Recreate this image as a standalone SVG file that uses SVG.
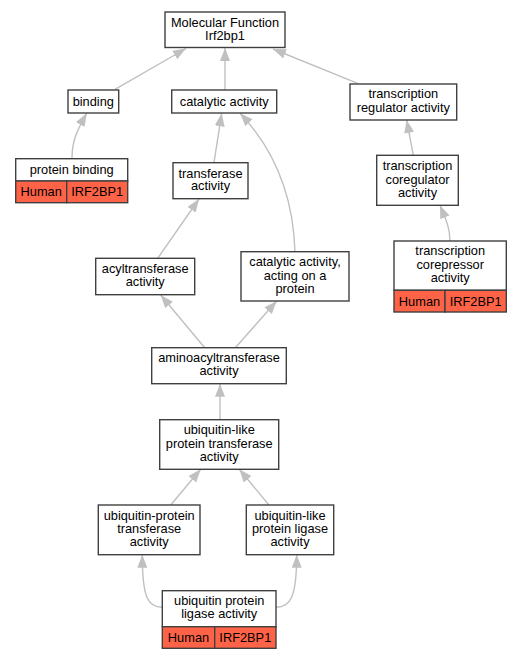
<svg xmlns="http://www.w3.org/2000/svg" width="523" height="659" viewBox="0 0 523 659">
<style>
.n{fill:#fff;stroke:#404040;stroke-width:1.4}
.h{fill:#ff6347;stroke:#404040;stroke-width:1.4}
.d{stroke:#000;stroke-width:1}
text{font-family:"Liberation Sans",Arial,sans-serif;font-size:12.8px;fill:#000;text-anchor:middle}
.e{fill:none;stroke:#c0c0c0;stroke-width:1.4}
</style>
<defs>
<marker id="a" markerUnits="userSpaceOnUse" markerWidth="14" markerHeight="11" refX="13" refY="5" orient="auto" viewBox="0 0 14 11">
<path d="M0,0 L13,5 L0,10 z" fill="#c0c0c0"/>
</marker>
</defs>
<rect width="523" height="659" fill="#fff"/>
<g id="edges">
<path class="e" marker-end="url(#a)" d="M115,89.3 L186,48.5"/>
<path class="e" marker-end="url(#a)" d="M225,90 L225,48"/>
<path class="e" marker-end="url(#a)" d="M357.7,83.3 L273,49"/>
<path class="e" marker-end="url(#a)" d="M72,158 C72,142 76,132 86.7,113.3"/>
<path class="e" marker-end="url(#a)" d="M214,162.3 L221.7,113.3"/>
<path class="e" marker-end="url(#a)" d="M295,251.7 C293,190 272,147 240,113.3"/>
<path class="e" marker-end="url(#a)" d="M413.3,155.3 L406.7,120"/>
<path class="e" marker-end="url(#a)" d="M450,241 C450,228 446,220 440,205.3"/>
<path class="e" marker-end="url(#a)" d="M157.7,258.3 L199,199"/>
<path class="e" marker-end="url(#a)" d="M204.7,347.7 L160.7,295"/>
<path class="e" marker-end="url(#a)" d="M235.3,347.7 L276.7,301"/>
<path class="e" marker-end="url(#a)" d="M220,419.7 L220,383.7"/>
<path class="e" marker-end="url(#a)" d="M170.7,505 L200.7,469.3"/>
<path class="e" marker-end="url(#a)" d="M269,505 L239.3,469.3"/>
<path class="e" marker-end="url(#a)" d="M162.3,607.3 C148,607.3 142.3,598 142.3,554.7"/>
<path class="e" marker-end="url(#a)" d="M276,607.3 C290,607.3 296.7,598 296.7,554.7"/>
</g>
<g id="mf">
<rect class="n" x="165" y="12" width="120" height="35.5"/>
<text x="225" y="26.5">Molecular Function</text>
<text x="225" y="39.5">Irf2bp1</text>
</g>
<g id="binding">
<rect class="n" x="68" y="90" width="50.7" height="23"/>
<text x="93.3" y="106">binding</text>
</g>
<g id="catalytic">
<rect class="n" x="171.7" y="90" width="105" height="23"/>
<text x="224.2" y="106">catalytic activity</text>
</g>
<g id="tra">
<rect class="n" x="350" y="84" width="106.7" height="36"/>
<text x="403.3" y="98">transcription</text>
<text x="403.3" y="111.5">regulator activity</text>
</g>
<g id="protbinding">
<rect class="n" x="15.7" y="158.7" width="112" height="22.3"/>
<rect class="h" x="15.7" y="181" width="51" height="21.7"/>
<rect class="h" x="66.7" y="181" width="61" height="21.7"/>
<text x="71.7" y="173.5">protein binding</text>
<text x="41.2" y="196">Human</text>
<text x="97.2" y="196">IRF2BP1</text>
</g>
<g id="transferase">
<rect class="n" x="173" y="162.7" width="75" height="36"/>
<text x="210.5" y="177.5">transferase</text>
<text x="210.5" y="190">activity</text>
</g>
<g id="coreg">
<rect class="n" x="376.7" y="155.3" width="81.6" height="50"/>
<text x="417.5" y="170">transcription</text>
<text x="417.5" y="183.5">coregulator</text>
<text x="417.5" y="196.8">activity</text>
</g>
<g id="acyl">
<rect class="n" x="95.7" y="258.3" width="99" height="36.4"/>
<text x="145.2" y="272.8">acyltransferase</text>
<text x="145.2" y="286">activity</text>
</g>
<g id="catprot">
<rect class="n" x="241" y="251.7" width="108" height="49.3"/>
<text x="295" y="266">catalytic activity,</text>
<text x="295" y="279.5">acting on a</text>
<text x="295" y="292.8">protein</text>
</g>
<g id="corep">
<rect class="n" x="394" y="241" width="112.3" height="49.3"/>
<rect class="h" x="394" y="290.3" width="51" height="21.7"/>
<rect class="h" x="445" y="290.3" width="61.3" height="21.7"/>
<text x="450.2" y="255">transcription</text>
<text x="450.2" y="268.5">corepressor</text>
<text x="450.2" y="281.8">activity</text>
<text x="419.5" y="305.5">Human</text>
<text x="475.7" y="305.5">IRF2BP1</text>
</g>
<g id="aminoacyl">
<rect class="n" x="151.7" y="347.7" width="134.6" height="36"/>
<text x="219" y="361.8">aminoacyltransferase</text>
<text x="219" y="375">activity</text>
</g>
<g id="ubltrans">
<rect class="n" x="159.7" y="419.7" width="119" height="49.6"/>
<text x="219.2" y="434">ubiquitin-like</text>
<text x="219.2" y="447.5">protein transferase</text>
<text x="219.2" y="460.8">activity</text>
</g>
<g id="ubptrans">
<rect class="n" x="98.3" y="505" width="101.7" height="49.7"/>
<text x="149.2" y="519.5">ubiquitin-protein</text>
<text x="149.2" y="532.8">transferase</text>
<text x="149.2" y="546">activity</text>
</g>
<g id="ublligase">
<rect class="n" x="246.3" y="505" width="87.4" height="49.7"/>
<text x="290" y="519.5">ubiquitin-like</text>
<text x="290" y="532.8">protein ligase</text>
<text x="290" y="546">activity</text>
</g>
<g id="ubpligase">
<rect class="n" x="162.3" y="590.7" width="113.7" height="36"/>
<rect class="h" x="162.3" y="626.7" width="52.4" height="21.6"/>
<rect class="h" x="214.7" y="626.7" width="61.3" height="21.6"/>
<text x="219.2" y="604.8">ubiquitin protein</text>
<text x="219.2" y="618">ligase activity</text>
<text x="188.5" y="642">Human</text>
<text x="245.3" y="642">IRF2BP1</text>
</g>
</svg>
